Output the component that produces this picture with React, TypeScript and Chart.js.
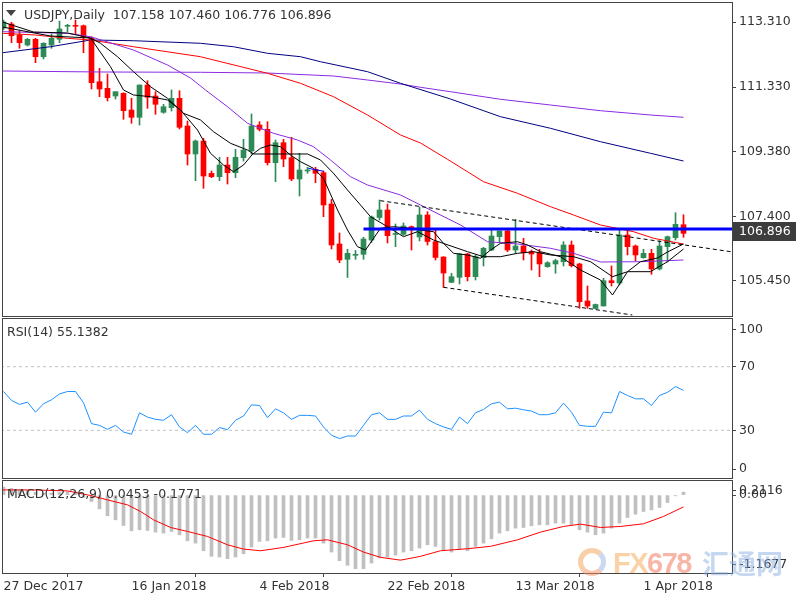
import React, { useEffect, useRef } from 'react';
import { Chart, registerables } from 'chart.js';

Chart.register(...registerables);
Chart.defaults.font.family = 'DejaVu Sans';

// ---------- data ----------
const SYMBOL = 'USDJPY,Daily';
const DATE_LABELS = ['27 Dec 2017', '16 Jan 2018', '4 Feb 2018', '22 Feb 2018', '13 Mar 2018', '1 Apr 2018'];
const DATE_TICK_BARS = [0, 16, 32, 48, 64, 80];
const PRICE_TICKS = [105.45, 107.4, 109.38, 111.33, 113.31];
const RSI_AXIS_LABELS = ['100', '70', '30', '0'];
const MACD_AXIS_LABELS = ['0.2116', '0.00', '-1.1677'];
const RSI_LEVELS = [70, 30];

const OPEN = [113.128, 113.249, 112.915, 112.612, 112.785, 112.257, 112.612, 112.785, 113.18, 113.189,
  113.198, 112.815, 111.498, 111.298, 111.064, 111.146, 110.639, 110.418, 111.398, 111.064,
  110.569, 110.709, 110.994, 110.154, 109.304, 109.698, 108.718, 108.615, 108.97, 108.736,
  109.192, 109.395, 110.184, 110.054, 109.04, 109.647, 109.192, 108.545, 108.788, 108.84,
  108.736, 107.786, 106.573, 106.108, 106.229, 106.26, 106.694, 107.377, 107.604, 106.861,
  106.867, 107.098, 106.785, 107.453, 106.642, 106.178, 105.41, 105.562, 106.269, 105.58,
  106.157, 106.39, 106.794, 106.967, 106.39, 106.512, 106.339, 106.308, 105.884, 105.966,
  106.035, 106.542, 105.966, 104.843, 104.615, 104.691, 105.459, 105.389, 106.846, 106.512,
  106.157, 106.29, 105.814, 106.491, 106.764, 107.158];
const HIGH = [113.371, 113.301, 113.046, 112.815, 112.815, 112.682, 112.946, 113.34, 113.24, 113.371,
  113.219, 112.864, 111.905, 111.732, 111.195, 111.164, 110.994, 111.398, 111.529, 111.195,
  110.812, 111.246, 111.225, 110.305, 109.729, 109.78, 108.788, 109.204, 109.204, 109.447,
  109.75, 110.518, 110.284, 110.284, 109.729, 109.75, 109.811, 109.325, 108.9, 108.9,
  108.788, 107.929, 106.906, 106.412, 106.375, 106.776, 107.422, 107.908, 107.786, 107.18,
  107.21, 107.119, 107.695, 107.553, 107.028, 106.187, 105.683, 106.29, 106.29, 106.239,
  106.472, 107.049, 106.976, 106.997, 107.322, 106.746, 106.39, 106.412, 106.035, 106.108,
  106.642, 106.664, 105.987, 105.298, 104.751, 105.531, 105.905, 107.019, 106.976, 106.542,
  106.412, 106.412, 106.673, 106.815, 107.522, 107.46];
const LOW = [113.067, 112.682, 112.512, 112.582, 112.075, 112.187, 112.512, 112.682, 113.016, 112.946,
  112.378, 111.277, 111.043, 110.912, 110.973, 110.357, 110.236, 110.184, 110.691, 110.509,
  110.539, 110.609, 110.063, 108.97, 108.494, 108.263, 108.585, 108.494, 108.393, 108.585,
  109.091, 109.295, 110.002, 108.97, 108.463, 108.919, 108.494, 108.029, 108.718, 108.433,
  107.401, 106.421, 106.005, 105.556, 106.108, 106.108, 106.618, 107.301, 106.603, 106.491,
  106.831, 106.39, 106.664, 106.542, 106.087, 105.258, 105.398, 105.359, 105.45, 105.48,
  105.905, 106.369, 106.612, 106.339, 106.29, 106.087, 105.783, 105.58, 105.865, 105.683,
  105.905, 105.875, 104.621, 104.621, 104.6, 104.691, 105.298, 105.328, 106.239, 106.066,
  106.139, 105.653, 105.783, 106.026, 106.694, 106.776];
const CLOSE = [113.31, 112.894, 112.682, 112.785, 112.257, 112.664, 112.815, 113.098, 113.189, 113.18,
  112.864, 111.468, 111.277, 111.013, 111.195, 110.618, 110.418, 111.398, 111.025, 110.812,
  110.739, 110.994, 110.114, 109.304, 109.698, 108.636, 108.615, 108.97, 108.736, 109.204,
  109.425, 110.154, 110.054, 109.04, 109.647, 109.152, 108.545, 108.818, 108.797, 108.718,
  107.756, 106.542, 106.087, 106.29, 106.248, 106.724, 107.392, 107.604, 106.824, 106.891,
  107.119, 107.049, 107.453, 106.648, 106.163, 105.692, 105.58, 106.269, 105.58, 106.187,
  106.442, 106.815, 106.967, 106.39, 106.512, 106.308, 106.269, 105.966, 106.005, 106.066,
  106.542, 105.914, 104.821, 104.691, 104.736, 105.459, 105.398, 106.846, 106.491, 106.239,
  106.29, 105.814, 106.512, 106.794, 107.17, 106.896];

const MA_FAST = [[-0.125, 113.31], [3.75, 113.007], [8, 112.976], [10.875, 112.824], [13.375, 111.953], [15, 111.246],
  [16.25, 111.095], [18.375, 111.043], [20.5, 110.943], [22.125, 110.639], [24.25, 110.032], [25.875, 109.325],
  [27.5, 108.97], [28.75, 108.767], [30, 108.97], [31.125, 109.295], [32.125, 109.477], [33.375, 109.577],
  [34.625, 109.526], [35.875, 109.274], [37.125, 109.07], [38.75, 108.87], [40, 108.566], [41.75, 107.604],
  [43, 106.997], [44.25, 106.491], [45.25, 106.39], [47.125, 107.049], [48.75, 107.098], [50.875, 107.049],
  [52.125, 106.997], [53.75, 106.946], [55, 106.594], [56.25, 106.29], [58, 106.239], [59.625, 106.139],
  [60.875, 106.39], [62.125, 106.594], [64.25, 106.642], [65.5, 106.542], [67.125, 106.339], [69.625, 106.187],
  [72.125, 105.783], [74.625, 105.48], [76.125, 105.025], [78, 105.732], [79.625, 106.035], [81.75, 106.148],
  [83, 106.33], [85, 106.573]];
const MA_SLOW = [[-0.125, 113.158], [5.875, 112.885], [10.875, 112.824], [12.125, 112.664], [14.25, 112.257],
  [16.25, 111.802], [18.375, 111.346], [20.5, 110.994], [22.5, 110.539], [24.625, 110.336], [26.25, 109.981],
  [28.375, 109.629], [30.5, 109.425], [31.25, 109.304], [38, 109.304], [39.625, 109.122], [41.25, 108.718],
  [43, 108.211], [44.625, 107.756], [45.875, 107.401], [48, 107.098], [50, 106.794], [51.75, 106.946],
  [53.75, 106.694], [58, 106.339], [60, 106.187], [62.125, 106.187], [64.25, 106.29], [66.25, 106.339],
  [68.375, 106.239], [71.25, 106.187], [73.375, 106.035], [76.125, 105.58], [78, 105.732], [80.875, 105.732],
  [83, 106.035], [85, 106.42]];
const MA_VIOLET_SHORT = [[-0.125, 113.016], [8, 112.967], [10.875, 112.864], [16.25, 112.46], [20.5, 112.005],
  [23.375, 111.61], [25.25, 111.246], [28, 110.739], [30.5, 110.236], [33.75, 109.932], [36.75, 109.729],
  [38.75, 109.526], [40.875, 109.122], [43.375, 108.615], [45.5, 108.363], [49.625, 108.06], [52.125, 107.756],
  [57.125, 107.149], [60.5, 106.642], [64.25, 106.573], [68.375, 106.442], [71.25, 106.29], [74.625, 106.026],
  [79.625, 106.035], [85, 106.087]];
const MA_RED = [[-0.125, 112.967], [4, 112.915], [8, 112.815], [10.875, 112.764], [16.25, 112.56], [24.625, 112.257],
  [33, 111.753], [37.125, 111.45], [41.25, 111.043], [45.5, 110.488], [49.625, 109.881], [52.125, 109.638],
  [55.5, 109.143], [60, 108.463], [64.25, 108.111], [68.375, 107.705], [71.25, 107.453], [74.625, 107.149],
  [78.75, 106.946], [81.25, 106.746], [85, 106.573]];
const MA_NAVY = [[-0.125, 112.378], [5.875, 112.56], [10.875, 112.764], [16.25, 112.742], [24.625, 112.664],
  [28.75, 112.56], [33, 112.36], [37.125, 112.257], [39.625, 112.105], [45.5, 111.802], [49.625, 111.45],
  [55.875, 110.973], [62.125, 110.436], [68.375, 110.084], [74.625, 109.677], [80.875, 109.325], [85, 109.091]];
const MA_VIOLET_LONG = [[-0.125, 111.823], [12.125, 111.793], [24.625, 111.784], [33, 111.762], [41.25, 111.671],
  [45.5, 111.55], [49.625, 111.428], [52.125, 111.328], [55.875, 111.195], [62.125, 110.964], [68.375, 110.791],
  [74.625, 110.618], [80.875, 110.488], [85, 110.418]];

const CHANNEL_UPPER = [[47.1, 107.887], [90.9, 106.339]];
const CHANNEL_LOWER = [[55, 105.258], [78.6, 104.418]];
const RESISTANCE = [[45, 107.028], [91.2, 107.028]];
const SMALL_LEVEL = [[38.1, 108.87], [40, 108.78]];

const RSI = [54.4, 48.8, 46.3, 47.7, 41.4, 46.7, 49.2, 52.9, 54.4, 54.4,
  47.3, 34.2, 33.1, 30.6, 33.1, 28.9, 27.5, 41.0, 38.3, 36.9,
  36.3, 39.8, 32.1, 28.5, 33.1, 27.5, 27.5, 31.7, 30.4, 36.3,
  39.0, 46.0, 45.6, 37.9, 43.5, 41.0, 36.9, 39.4, 39.4, 39.0,
  32.1, 26.9, 24.8, 26.4, 26.4, 33.1, 39.8, 41.0, 36.9, 36.9,
  39.0, 39.0, 42.7, 36.9, 34.2, 32.1, 30.6, 38.3, 34.2, 41.0,
  43.1, 46.7, 47.7, 43.5, 43.9, 42.9, 42.1, 39.8, 39.8, 41.0,
  47.1, 41.4, 33.1, 32.5, 32.5, 41.4, 41.0, 54.4, 51.9, 49.8,
  49.8, 45.6, 51.9, 53.9, 57.5, 55.1382];

const MACD_HIST = [0.12, 0.10, 0.08, 0.07, 0.04, 0.03, 0.03, 0.04, 0.05, 0.05,
  -0.03, -0.096, -0.206, -0.31, -0.37, -0.455, -0.535, -0.52, -0.53, -0.555,
  -0.57, -0.545, -0.595, -0.685, -0.72, -0.834, -0.918, -0.928, -0.953, -0.928,
  -0.879, -0.779, -0.694, -0.685, -0.644, -0.634, -0.679, -0.67, -0.644, -0.644,
  -0.72, -0.854, -0.984, -1.052, -1.103, -1.103, -1.018, -0.943, -0.93, -0.90,
  -0.854, -0.834, -0.794, -0.745, -0.769, -0.819, -0.854, -0.819, -0.834, -0.769,
  -0.72, -0.655, -0.57, -0.535, -0.495, -0.485, -0.46, -0.445, -0.445, -0.42,
  -0.42, -0.445, -0.52, -0.555, -0.595, -0.57, -0.495, -0.42, -0.335, -0.286,
  -0.245, -0.221, -0.185, -0.111, -0.01, 0.0453];
const MACD_SIGNAL = [[-0.125, 0.078], [3.75, 0.078], [8, 0.063], [10.875, -0.006], [13, -0.072], [15.5, -0.146],
  [17.125, -0.245], [18.75, -0.37], [20.875, -0.485], [23, -0.545], [25.5, -0.62], [28, -0.745], [30, -0.809],
  [32.125, -0.834], [35, -0.784], [38.75, -0.685], [40.5, -0.67], [43, -0.745], [45, -0.854], [47.125, -0.933],
  [49.625, -0.975], [52.125, -0.918], [54.625, -0.834], [58, -0.804], [60.875, -0.768], [64.25, -0.67],
  [67.125, -0.555], [70, -0.47], [72.125, -0.435], [74.625, -0.485], [77.125, -0.47], [80, -0.43],
  [82.5, -0.32], [85, -0.1771]];

// ---------- style ----------
const XMIN = -0.0625;
const XMAX = 91.0625;
const AXIS_W = 68;
const FRAME = '#444444';
const TEXT = '#333333';
const FONT = { family: 'DejaVu Sans', size: 12.5 };
const BULL = '#2e8b57';
const BEAR = '#ff0000';
const last = CLOSE.length - 1;

const pts = (arr: number[][]) => arr.map(([x, y]) => ({ x, y }));
const lineDs = (data: number[][], color: string, width = 1, order = 5, dash: number[] = []) => ({
  type: 'line', data: pts(data), borderColor: color, borderWidth: width, pointRadius: 0,
  fill: false, tension: 0, order, borderDash: dash,
});

const framePlugin = {
  id: 'frame',
  afterDraw(chart: any) {
    const { ctx, chartArea: a } = chart;
    ctx.save();
    ctx.strokeStyle = FRAME;
    ctx.lineWidth = 1;
    ctx.strokeRect(a.left - 0.5, a.top - 0.5, a.right - a.left + 1, a.bottom - a.top + 1);
    ctx.restore();
  },
};

const lastPricePlugin = {
  id: 'lastPrice',
  afterDraw(chart: any) {
    const { ctx, chartArea: a } = chart;
    const y = chart.scales.y.getPixelForValue(CLOSE[last]);
    const top = Math.round(y) - 11;
    ctx.save();
    ctx.fillStyle = '#3d3d3d';
    ctx.fillRect(a.right + 1, top, 63, 19);
    ctx.fillStyle = '#ffffff';
    ctx.font = '12.5px "DejaVu Sans"';
    ctx.textBaseline = 'middle';
    ctx.fillText(CLOSE[last].toFixed(3), a.right + 7, top + 10);
    ctx.restore();
  },
};

const xHidden = () => ({
  type: 'linear', min: XMIN, max: XMAX, display: false, offset: false, bounds: 'data',
});

const yAxis = (min: number, max: number, tickVals: number[], label: (v: number, i: number) => string) => ({
  type: 'linear', position: 'right', min, max, bounds: 'data',
  afterBuildTicks: (s: any) => { s.ticks = tickVals.map((v) => ({ value: v })); },
  afterFit: (s: any) => { s.width = AXIS_W; s.paddingTop = 0; s.paddingBottom = 0; },
  grid: { display: true, drawOnChartArea: false, drawTicks: true, tickLength: 4, color: FRAME, lineWidth: 1 },
  border: { display: false },
  ticks: { color: TEXT, font: FONT, padding: 3, autoSkip: false, callback: (v: any, i: number) => label(Number(v), i) },
});

const baseOptions = (padding: any) => ({
  animation: false,
  responsive: false,
  maintainAspectRatio: false,
  events: [],
  layout: { padding },
  plugins: { legend: { display: false }, tooltip: { enabled: false }, title: { display: false } },
});

export default function App() {
  const mainRef = useRef<HTMLCanvasElement>(null);
  const rsiRef = useRef<HTMLCanvasElement>(null);
  const macdRef = useRef<HTMLCanvasElement>(null);

  useEffect(() => {
    document.body.style.margin = '0';
    const charts: Chart[] = [];
    const candleColor = (ctx: any) => {
      const i = ctx.dataIndex;
      if (i === undefined) return BULL;
      return CLOSE[i] >= OPEN[i] ? BULL : BEAR;
    };

    charts.push(new Chart(mainRef.current as HTMLCanvasElement, {
      type: 'bar',
      data: {
        datasets: [
          lineDs(RESISTANCE, '#0000ff', 3, 1),
          lineDs(SMALL_LEVEL, '#0000ff', 1, 1),
          lineDs(CHANNEL_UPPER, '#000000', 1, 2, [4, 3]),
          lineDs(CHANNEL_LOWER, '#000000', 1, 2, [4, 3]),
          lineDs(MA_FAST, '#000000', 1, 4),
          lineDs(MA_SLOW, '#000000', 1, 4),
          lineDs(MA_VIOLET_SHORT, '#8a2be2', 1, 4),
          lineDs(MA_RED, '#ff0000', 1, 4),
          lineDs(MA_NAVY, '#000080', 1, 4),
          lineDs(MA_VIOLET_LONG, '#8a2be2', 1, 4),
          {
            type: 'bar', data: OPEN.map((_, i) => ({ x: i, y: [LOW[i], HIGH[i]] })),
            barThickness: 1, grouped: false, backgroundColor: candleColor, borderWidth: 0,
            minBarLength: 1, order: 11,
          },
          {
            type: 'bar', data: OPEN.map((o, i) => ({ x: i, y: [o, CLOSE[i]] })),
            barThickness: 5, grouped: false, backgroundColor: candleColor, borderWidth: 0,
            minBarLength: 1, order: 10,
          },
        ] as any,
      },
      options: {
        ...baseOptions({ left: 3, top: 3, right: 0, bottom: 2 }),
        scales: {
          x: xHidden(),
          y: yAxis(104.387, 113.887, PRICE_TICKS, (v) => v.toFixed(3)),
        },
      } as any,
      plugins: [framePlugin, lastPricePlugin],
    }));

    charts.push(new Chart(rsiRef.current as HTMLCanvasElement, {
      type: 'line',
      data: {
        datasets: [
          ...RSI_LEVELS.map((lv) => lineDs([[XMIN - 1, lv], [XMAX + 1, lv]], '#c0c0c0', 1, 3, [3, 3])),
          { ...lineDs([], '#1e90ff', 1, 1), data: RSI.map((v, i) => ({ x: i, y: v })) },
        ] as any,
      },
      options: {
        ...baseOptions({ left: 3, top: 2, right: 0, bottom: 2 }),
        scales: {
          x: xHidden(),
          y: yAxis(0, 100, [93.5, 70, 30, 5.6], (_v, i) => RSI_AXIS_LABELS[i]),
        },
      } as any,
      plugins: [framePlugin],
    }));

    charts.push(new Chart(macdRef.current as HTMLCanvasElement, {
      type: 'bar',
      data: {
        datasets: [
          lineDs(MACD_SIGNAL, '#ff0000', 1, 1),
          {
            type: 'bar', data: MACD_HIST.map((v, i) => ({ x: i, y: v })),
            barThickness: 3, grouped: false, backgroundColor: '#c0c0c0', borderWidth: 0, order: 2,
          },
        ] as any,
      },
      options: {
        ...baseOptions({ left: 3, top: 2, right: 0, bottom: 0 }),
        scales: {
          x: {
            type: 'linear', min: XMIN, max: XMAX, offset: false, bounds: 'data', position: 'bottom',
            afterBuildTicks: (s: any) => { s.ticks = DATE_TICK_BARS.map((v) => ({ value: v })); },
            afterFit: (s: any) => { s.height = 27; s.paddingLeft = 0; s.paddingRight = 0; },
            grid: { display: true, drawOnChartArea: false, drawTicks: true, tickLength: 4, color: FRAME },
            border: { display: false },
            ticks: {
              color: TEXT, font: FONT, padding: 2, autoSkip: false, maxRotation: 0, minRotation: 0,
              align: 'start', callback: (_v: any, i: number) => DATE_LABELS[i],
            },
          },
          y: yAxis(-1.1677, 0.2116, [0.0617, 0, -1.043], (_v, i) => MACD_AXIS_LABELS[i]),
        },
      } as any,
      plugins: [framePlugin],
    }));

    return () => charts.forEach((c) => c.destroy());
  }, []);

  const textStyle: React.CSSProperties = {
    position: 'absolute', fontFamily: 'DejaVu Sans', fontSize: '12.5px', lineHeight: '15px',
    color: TEXT, whiteSpace: 'pre',
  };

  return (
    <div style={{ position: 'relative', width: 800, height: 600, background: '#ffffff', overflow: 'hidden' }}>
      <canvas ref={mainRef} width={800} height={318} style={{ position: 'absolute', left: 0, top: 0 }} />
      <canvas ref={rsiRef} width={800} height={163} style={{ position: 'absolute', left: 0, top: 317 }} />
      <canvas ref={macdRef} width={800} height={121} style={{ position: 'absolute', left: 0, top: 479 }} />

      <div style={{
        position: 'absolute', left: 6, top: 10, width: 0, height: 0,
        borderLeft: '5px solid transparent', borderRight: '5px solid transparent', borderTop: '6px solid #444',
      }} />
      <div style={{ ...textStyle, left: 24, top: 6.5 }}>
        {`${SYMBOL}  ${OPEN[last].toFixed(3)} ${HIGH[last].toFixed(3)} ${LOW[last].toFixed(3)} ${CLOSE[last].toFixed(3)}`}
      </div>
      <div style={{ ...textStyle, left: 7, top: 323.5 }}>{`RSI(14) ${RSI[last].toFixed(4)}`}</div>
      <div style={{ ...textStyle, left: 7, top: 485.5 }}>
        {`MACD(12,26,9) ${MACD_HIST[last].toFixed(4)} ${MACD_SIGNAL[MACD_SIGNAL.length - 1][1].toFixed(4)}`}
      </div>

      {/* watermark */}
      <div style={{
        position: 'absolute', left: 578, top: 548, width: 18, height: 18, borderRadius: '50%',
        border: '5px solid', borderColor: 'rgba(243,160,80,0.5) rgba(150,180,225,0.5) rgba(243,140,90,0.5) rgba(243,160,80,0.5)',
      }} />
      <div style={{
        position: 'absolute', left: 613, top: 549, fontFamily: 'Liberation Sans', fontWeight: 'bold',
        fontSize: '29px', lineHeight: '29px', letterSpacing: '-1.5px', whiteSpace: 'pre',
      }}>
        <span style={{ color: 'rgba(243,167,80,0.5)' }}>FX</span>
        <span style={{ color: 'rgba(240,110,80,0.5)' }}>678</span>
      </div>
      <div style={{
        position: 'absolute', left: 702, top: 548, fontFamily: 'Noto Sans CJK SC', fontWeight: 'bold',
        fontSize: '27px', lineHeight: '29px', color: 'rgba(140,175,225,0.5)', whiteSpace: 'pre',
      }}>汇通网</div>
    </div>
  );
}
